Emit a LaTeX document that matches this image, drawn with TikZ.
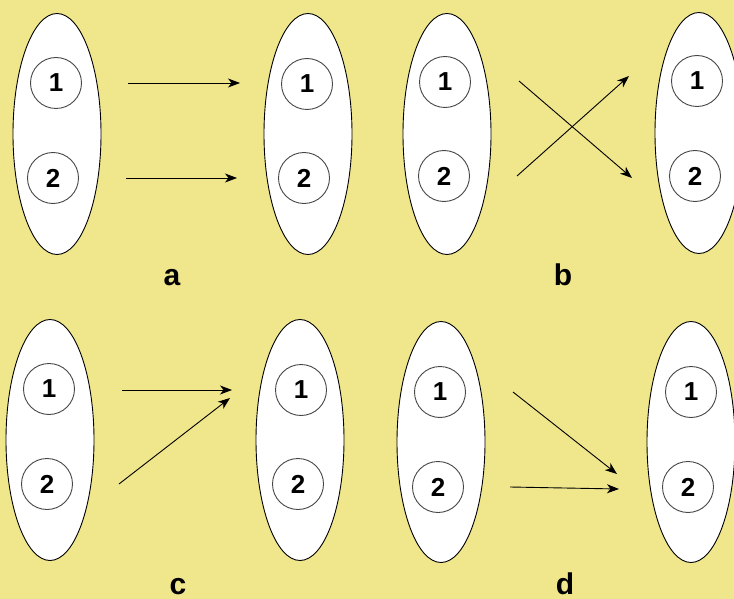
\documentclass[tikz,border=0pt]{standalone}
\usepackage{fontspec}
\setmainfont{Liberation Sans}
\usetikzlibrary{arrows.meta,shapes.geometric}
\definecolor{khaki}{RGB}{240,230,140}
\definecolor{ringgray}{RGB}{70,70,70}
\tikzset{
  set/.style={ellipse, draw=black, fill=white, line width=0.9pt, inner sep=0pt,
    minimum width=88pt, minimum height=241pt},
  elem/.style={circle, draw=ringgray, fill=white, line width=0.9pt, inner sep=0pt,
    minimum size=51pt, font=\fontsize{26}{26}\selectfont\bfseries},
  tag/.style={font=\fontsize{30}{30}\selectfont\bfseries, inner sep=0pt, anchor=base},
  map/.style={line width=0.9pt, -{Stealth[length=12pt,width=9pt,inset=3.5pt]}},
}
\begin{document}
\begin{tikzpicture}[x=1pt,y=-1pt]
  \fill[khaki] (0,0) rectangle (734,599);
  \useasboundingbox (0,0) rectangle (734,599);

  % ---- a: identity mapping ----
  \node[set] (aL) at (57,134) {};
  \node[elem] (aL1) at (56,83) {1};
  \node[elem] (aL2) at (53,178) {2};
  \node[set] (aR) at (308,134) {};
  \node[elem] (aR1) at (307,84) {1};
  \node[elem] (aR2) at (304,178) {2};
  \coordinate (a1s) at (128,83);  \coordinate (a1e) at (240,83);
  \coordinate (a2s) at (126,178); \coordinate (a2e) at (237,178);
  \draw[map] (a1s) -- (a1e);
  \draw[map] (a2s) -- (a2e);
  \node[tag] (la) at (172,285) {a};

  % ---- b: swap ----
  \node[set] (bL) at (447,134) {};
  \node[elem] (bL1) at (445,82) {1};
  \node[elem] (bL2) at (444,176) {2};
  \node[set] (bR) at (699,133) {};
  \node[elem] (bR1) at (697,81) {1};
  \node[elem] (bR2) at (695,176) {2};
  \coordinate (b1s) at (519,81);  \coordinate (b1e) at (632,178);
  \coordinate (b2s) at (517,176); \coordinate (b2e) at (629,76);
  \draw[map] (b1s) -- (b1e);
  \draw[map] (b2s) -- (b2e);
  \node[tag] (lb) at (563,285) {b};

  % ---- c: both onto 1 ----
  \node[set] (cL) at (50,440) {};
  \node[elem] (cL1) at (49,389) {1};
  \node[elem] (cL2) at (47,484) {2};
  \node[set] (cR) at (300,440) {};
  \node[elem] (cR1) at (301,390) {1};
  \node[elem] (cR2) at (298,484) {2};
  \coordinate (c1s) at (122,390); \coordinate (c1e) at (232,390);
  \coordinate (c2s) at (119,484); \coordinate (c2e) at (230,398);
  \draw[map] (c1s) -- (c1e);
  \draw[map] (c2s) -- (c2e);
  \node[tag] (lc) at (178,594) {c};

  % ---- d: both onto 2 ----
  \node[set] (dL) at (441,442) {};
  \node[elem] (dL1) at (440,392) {1};
  \node[elem] (dL2) at (438,487) {2};
  \node[set] (dR) at (691,442) {};
  \node[elem] (dR1) at (691,392) {1};
  \node[elem] (dR2) at (688,487) {2};
  \coordinate (d1s) at (513,392); \coordinate (d1e) at (617,474);
  \coordinate (d2s) at (510,487); \coordinate (d2e) at (619,489);
  \draw[map] (d1s) -- (d1e);
  \draw[map] (d2s) -- (d2e);
  \node[tag] (ld) at (565,594) {d};
\end{tikzpicture}
\end{document}
